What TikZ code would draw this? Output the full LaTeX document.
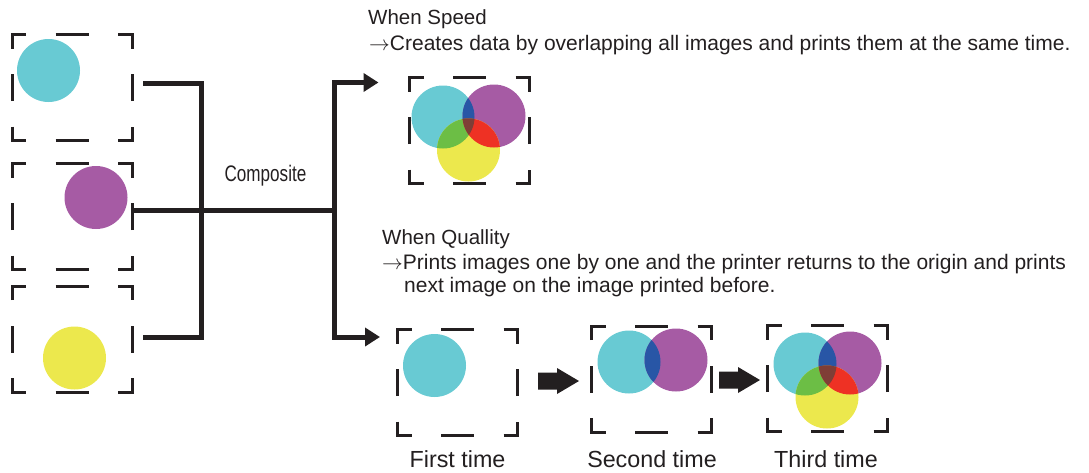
\documentclass[tikz,border=0pt]{standalone}
\usepackage{fontspec}
\setmainfont{Liberation Sans}
\newfontfamily\narrowfont[FakeStretch=0.76]{Liberation Sans}
\usetikzlibrary{arrows.meta,calc}
\definecolor{ink}{RGB}{35,31,32}
\definecolor{cyanC}{RGB}{104,202,211}
\definecolor{magC}{RGB}{166,91,164}
\definecolor{yelC}{RGB}{236,232,77}
\definecolor{blueC}{RGB}{40,86,166}
\definecolor{greenC}{RGB}{108,190,69}
\definecolor{redC}{RGB}{238,49,36}
\definecolor{brownC}{RGB}{127,62,54}
\newcommand\dashframe[1]{%
  \draw[frame] ([yshift=-14pt]#1.north west) -- (#1.north west) -- ([xshift=14pt]#1.north west);
  \draw[frame] ([xshift=-14pt]#1.north east) -- (#1.north east) -- ([yshift=-14pt]#1.north east);
  \draw[frame] ([yshift=14pt]#1.south west) -- (#1.south west) -- ([xshift=14pt]#1.south west);
  \draw[frame] ([xshift=-14pt]#1.south east) -- (#1.south east) -- ([yshift=14pt]#1.south east);
  \draw[frame] ([xshift=-16.5pt]#1.north) -- ([xshift=16.5pt]#1.north);
  \draw[frame] ([xshift=-16.5pt]#1.south) -- ([xshift=16.5pt]#1.south);
  \draw[frame] ([yshift=-13.5pt]#1.west) -- ([yshift=13.5pt]#1.west);
  \draw[frame] ([yshift=-13.5pt]#1.east) -- ([yshift=13.5pt]#1.east);
}
\newcommand\vennCMY[3]{%
  \fill[cyanC] (#1) circle[radius=31.5];
  \fill[magC] (#2) circle[radius=31.5];
  \fill[yelC] (#3) circle[radius=31.5];
  \begin{scope}
    \clip (#1) circle[radius=31.5];
    \fill[blueC] (#2) circle[radius=31.5];
    \fill[greenC] (#3) circle[radius=31.5];
  \end{scope}
  \begin{scope}
    \clip (#2) circle[radius=31.5];
    \fill[redC] (#3) circle[radius=31.5];
  \end{scope}
  \begin{scope}
    \clip (#1) circle[radius=31.5];
    \clip (#2) circle[radius=31.5];
    \fill[brownC] (#3) circle[radius=31.5];
  \end{scope}
}
\newcommand\thinarrow{\ensuremath{\rightarrow}}
\begin{document}
\begin{tikzpicture}[x=1pt,y=-1pt,
  imgbox/.style={inner sep=0pt,outer sep=0pt,minimum width=120pt,minimum height=106pt},
  frame/.style={draw=ink,line width=3pt,line join=miter},
  conn/.style={draw=ink,line width=5pt,line join=miter},
  tipS/.style={-{Triangle[length=15pt,width=18pt]}},
  txt/.style={anchor=base west,inner sep=0pt,text=ink,font=\fontsize{20.5pt}{24pt}\selectfont},
  txtl/.style={anchor=base west,inner sep=0pt,text=ink,font=\fontsize{21pt}{25pt}\selectfont},
  lbl/.style={anchor=base,inner sep=0pt,text=ink,font=\fontsize{23.3pt}{27pt}\selectfont},
  blockarrow/.pic={\fill[ink] (0,-8.5) -- (19,-8.5) -- (19,-13) -- (41,0) -- (19,13) -- (19,8.5) -- (0,8.5) -- cycle;}
]
\useasboundingbox (0,0) rectangle (1089,472);

% image boxes
\node[imgbox] (l1) at (72,87.5) {};
\node[imgbox] (l2) at (72,216.5) {};
\node[imgbox] (l3) at (72,339) {};
\node[imgbox] (sp) at (469.5,130.5) {};
\node[imgbox] (qa) at (457.5,382.5) {};
\node[imgbox] (qb) at (651.5,379) {};
\node[imgbox] (qc) at (827.5,378.5) {};

% source images
\fill[cyanC] (48.5,70.5) circle[radius=31.5];
\fill[magC] (96,197.5) circle[radius=31.5];
\fill[yelC] (74.5,358) circle[radius=31.5];

% composite (speed)
\coordinate (sc) at (443,117);
\coordinate (sm) at (494,116);
\coordinate (sy) at (468.5,150);
\vennCMY{sc}{sm}{sy}

% quality steps
\fill[cyanC] (434.5,365.5) circle[radius=31.5];

\coordinate (bc) at (629,362);
\coordinate (bm) at (676,360);
\fill[cyanC] (bc) circle[radius=31.5];
\fill[magC] (bm) circle[radius=31.5];
\begin{scope}
  \clip (bc) circle[radius=31.5];
  \fill[blueC] (bm) circle[radius=31.5];
\end{scope}

\coordinate (cc) at (805,364);
\coordinate (cm) at (850,363);
\coordinate (cy) at (827,397);
\vennCMY{cc}{cm}{cy}

% dashed frames
\foreach \n in {l1,l2,l3,sp,qa,qb,qc} {\dashframe{\n}}

% connectors
\coordinate (j1) at (201,210);
\coordinate (j2) at (334,210);
\coordinate (tS) at ($(sp.north west)+(-31,5)$);
\coordinate (tQ) at ($(qa.north west)+(-17.5,7.5)$);
\draw[conn] ([xshift=11pt,yshift=4.5pt]l1.east) -| (j1) |- ([xshift=11pt,yshift=2pt]l3.east);
\draw[conn] ([xshift=2pt,yshift=6.5pt]l2.east) -- (j2);
\draw[conn,tipS] (j2) |- (tS);
\draw[conn,tipS] (j2) |- (tQ);

% block arrows between steps
\pic at (538,381) {blockarrow};
\pic at (719,380) {blockarrow};

% texts
\node[anchor=base,inner sep=0pt,text=ink,font=\narrowfont\fontsize{22.5pt}{26pt}\selectfont] (comp) at (265.5,181) {Composite};
\node[txt] (ws) at (368,24) {When Speed};
\node[txtl] (ws2) at (369,50) {\thinarrow Creates data by overlapping all images and prints them at the same time.};
\node[txt] (wq) at (382,244) {When Quallity};
\node[txtl] (wq2) at (382,269) {\thinarrow Prints images one by one and the printer returns to the origin and prints};
\node[txtl] (wq3) at (404,292) {next image on the image printed before.};
\node[lbl] (f1) at (457.5,467) {First time};
\node[lbl] (f2) at (652,467) {Second time};
\node[lbl] (f3) at (826,467) {Third time};
\end{tikzpicture}
\end{document}
